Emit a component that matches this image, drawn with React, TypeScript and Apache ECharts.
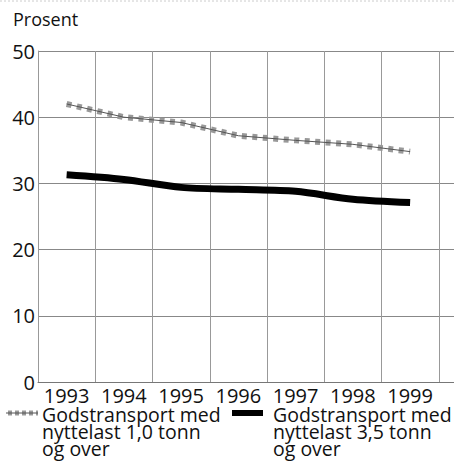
import React, { useEffect, useRef } from "react";
import * as echarts from "echarts";

const years = ["1993", "1994", "1995", "1996", "1997", "1998", "1999", ""];
const light = [42.0, 40.0, 39.2, 37.2, 36.5, 35.9, 34.8, null];
const heavy = [31.3, 30.6, 29.4, 29.1, 28.8, 27.6, 27.1, null];
const yTicks = [0, 10, 20, 30, 40, 50];
const legendLight = ["Godstransport med", "nyttelast 1,0 tonn", "og over"];
const legendHeavy = ["Godstransport med", "nyttelast 3,5 tonn", "og over"];

const FONT = "Open Sans";

export default function App() {
  const ref = useRef<HTMLDivElement>(null);
  useEffect(() => {
    if (!ref.current) return;
    const chart = echarts.init(ref.current, undefined, { renderer: "svg" });
    const legendText = (lines: string[], x: number) => ({
      type: "text",
      left: x,
      top: 404,
      style: {
        text: lines.join("\n"),
        fontSize: 19.5,
        lineHeight: 17,
        fontFamily: FONT,
        fill: "#111",
      },
    });
    chart.setOption({
      animation: false,
      backgroundColor: "#fff",
      grid: {
        left: 38,
        width: 458,
        top: 51,
        bottom: 81,
        containLabel: false,
        outerBoundsMode: "none",
      },
      xAxis: {
        type: "category",
        data: years,
        boundaryGap: true,
        axisLine: { show: true, lineStyle: { color: "#777", width: 1 } },
        axisTick: { show: false },
        axisLabel: {
          fontSize: 20,
          lineHeight: 17,
          fontFamily: FONT,
          color: "#111",
          margin: 5,
          interval: 0,
        },
        splitLine: { show: true, lineStyle: { color: "#999", width: 1 } },
      },
      yAxis: {
        type: "value",
        min: yTicks[0],
        max: yTicks[yTicks.length - 1],
        interval: 10,
        axisLine: { show: true, lineStyle: { color: "#999", width: 1 } },
        axisTick: { show: false },
        axisLabel: {
          fontSize: 20,
          fontFamily: FONT,
          color: "#111",
          margin: 3,
        },
        splitLine: { show: true, lineStyle: { color: "#888", width: 1 } },
      },
      series: [
        {
          name: "Godstransport med nyttelast 1,0 tonn og over",
          type: "line",
          data: light,
          showSymbol: false,
          lineStyle: { color: "#999", width: 6, type: [5, 5.5], cap: "butt" },
          z: 3,
        },
        {
          name: "Godstransport med nyttelast 1,0 tonn og over (linje)",
          type: "line",
          data: light,
          showSymbol: false,
          lineStyle: { color: "#555", width: 1 },
          z: 4,
        },
        {
          name: "Godstransport med nyttelast 3,5 tonn og over",
          type: "line",
          data: heavy,
          showSymbol: false,
          smooth: 0.3,
          lineStyle: { color: "#000", width: 7, cap: "butt" },
          z: 5,
        },
      ],
      graphic: [
        {
          type: "text",
          left: 13,
          top: 10,
          style: { text: "Prosent", fontSize: 18, fontFamily: FONT, fill: "#111" },
        },
        {
          type: "line",
          shape: { x1: 0, y1: 1, x2: 454, y2: 1 },
          style: { stroke: "#ccc", lineWidth: 1, lineDash: [2, 2] },
        },
        {
          type: "line",
          shape: { x1: 8, y1: 413, x2: 38, y2: 413 },
          style: { stroke: "#999", lineWidth: 5, lineDash: [4, 3] },
        },
        {
          type: "line",
          shape: { x1: 6, y1: 413, x2: 38, y2: 413 },
          style: { stroke: "#555", lineWidth: 1 },
        },
        legendText(legendLight, 42),
        {
          type: "rect",
          shape: { x: 232, y: 410, width: 31, height: 6 },
          style: { fill: "#000" },
        },
        legendText(legendHeavy, 273),
      ],
    });
    return () => chart.dispose();
  }, []);
  return (
    <div
      ref={ref}
      style={{ position: "fixed", left: 0, top: 0, width: 454, height: 463 }}
    />
  );
}
